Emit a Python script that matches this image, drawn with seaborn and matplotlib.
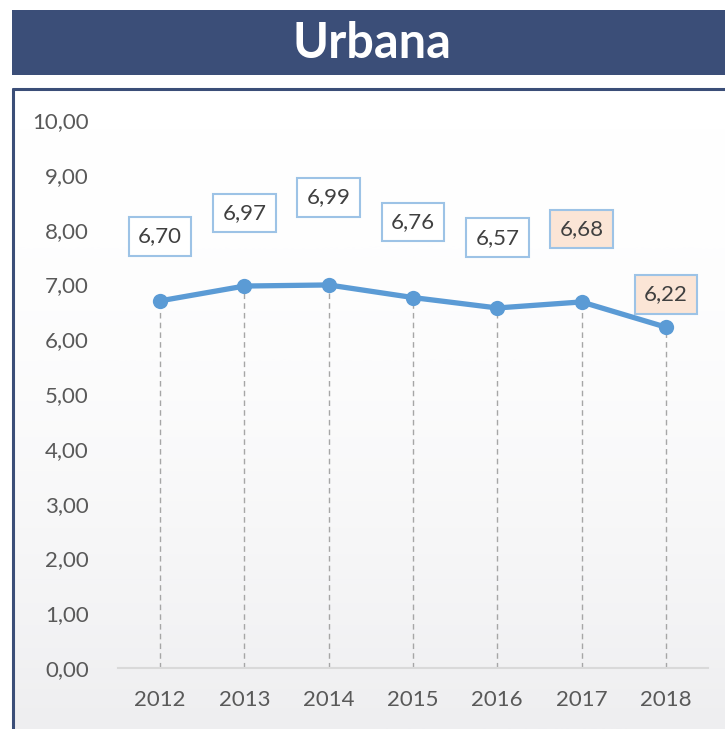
import numpy as np
import pandas as pd
import matplotlib
matplotlib.use("Agg")
import matplotlib.pyplot as plt
import seaborn as sns
from matplotlib.patches import Rectangle
from matplotlib.lines import Line2D

years = ["2012", "2013", "2014", "2015", "2016", "2017", "2018"]
values = [6.70, 6.97, 6.99, 6.76, 6.57, 6.68, 6.22]
highlight = [False, False, False, False, False, True, True]
y_ticks = [0, 1, 2, 3, 4, 5, 6, 7, 8, 9, 10]

# vertical placement of each value box (data units)
label_y = [7.88, 8.30, 8.59, 8.14, 7.85, 8.01, 6.82]

sns.set_theme(style="white")
plt.rcParams["font.family"] = ["Lato", "DejaVu Sans"]

df = pd.DataFrame({"year": years, "value": values, "pos": np.arange(len(years))})

fig = plt.figure(figsize=(7.25, 7.29), dpi=100)
W, H = 725, 729

# soft grey gradient behind the chart panel
grad = np.linspace(1.0, 0.0, 256).reshape(-1, 1)
bg_ax = fig.add_axes([14 / W, 0, 1 - 14 / W, 1 - 90 / H])
bg_ax.imshow(grad ** 2.0, aspect="auto", cmap=matplotlib.colors.LinearSegmentedColormap.from_list(
    "bg", ["#ffffff", "#eeeef0"]), extent=[0, 1, 0, 1], origin="lower")
bg_ax.axis("off")

# title banner
fig.patches.append(Rectangle((12 / W, 1 - 75 / H), 1 - 12 / W, 65 / H,
                             transform=fig.transFigure, facecolor="#3B4E78",
                             edgecolor="none", zorder=0))
fig.text((12 + W) / 2 / W + 0.005, 1 - 44 / H, "Urbana", color="white", fontsize=35,
         fontweight="bold", ha="center", va="center")

# panel border (left and top)
fig.lines.append(Line2D([13 / W, 13 / W], [0, 1 - 89 / H], transform=fig.transFigure,
                        color="#3B4E78", lw=2.2))
fig.lines.append(Line2D([13 / W, 1], [1 - 89 / H, 1 - 89 / H], transform=fig.transFigure,
                        color="#3B4E78", lw=2.2))

ax = fig.add_axes([118 / W, 1 - 668 / H, (708 - 118) / W, (668 - 120) / H])
ax.patch.set_alpha(0)

# dashed drop lines from each point to the baseline
ax.vlines(df["pos"], 0, df["value"], colors="#a6a6a6", linestyles=(0, (4, 3)), lw=1.0, zorder=1)

sns.lineplot(data=df, x="pos", y="value", ax=ax, color="#5B9BD5", lw=3.8,
             marker="o", markersize=11, markeredgewidth=0, zorder=3)

for i, (v, ly, hl) in enumerate(zip(values, label_y, highlight)):
    ax.text(i, ly, f"{v:.2f}".replace(".", ","), ha="center", va="center",
            fontsize=16, color="#404040", zorder=4,
            bbox=dict(boxstyle="square,pad=0.42", facecolor="#FBE5D6" if hl else "white",
                      edgecolor="#9DC3E6", lw=1.5))

ax.set_xlim(-0.5, 6.5)
ax.set_ylim(0, 10)
ax.set_xticks(df["pos"])
ax.set_xticklabels(years)
ax.set_yticks(y_ticks)
ax.set_yticklabels([f"{t:.2f}".replace(".", ",") for t in y_ticks])
ax.tick_params(axis="both", length=0, labelsize=16, labelcolor="#595959")
ax.tick_params(axis="x", pad=16)
ax.tick_params(axis="y", pad=21)
for s in ["top", "right", "left"]:
    ax.spines[s].set_visible(False)
ax.spines["bottom"].set_color("#d9d9d9")
ax.spines["bottom"].set_linewidth(1.5)
ax.set_xlabel("")
ax.set_ylabel("")
for lab in ax.get_yticklabels():
    lab.set_horizontalalignment("right")

fig.savefig("out.png", dpi=100)
